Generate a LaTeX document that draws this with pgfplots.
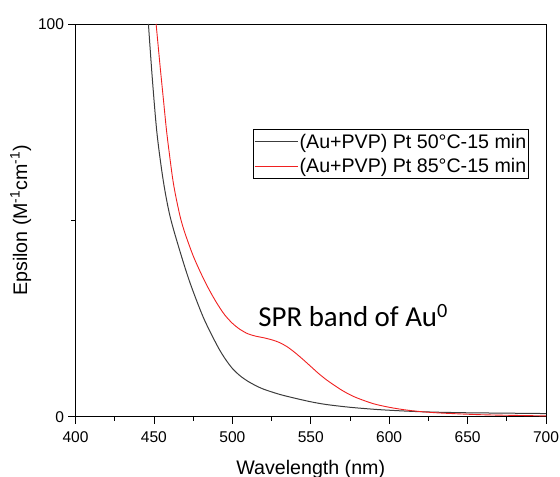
\documentclass[border=0pt]{standalone}
\usepackage{fontspec}
\setmainfont{Liberation Sans}
\newfontfamily\calib{Carlito}
\usepackage{pgfplots}
\pgfplotsset{compat=1.18}
\usetikzlibrary{calc}
\definecolor{cBlack}{HTML}{3C3C3C}
\definecolor{cRed}{HTML}{F02020}

\begin{document}
\begin{tikzpicture}
\begin{axis}[name=ax,
    scale only axis, width=470.5bp, height=392.7bp,
    xmin=400, xmax=700, ymin=0, ymax=100,
    xtick={400,450,...,700}, minor xtick={425,475,...,675},
    ytick={0,100}, minor ytick={50},
    tick align=outside, xtick pos=bottom, ytick pos=left,
    major tick length=7bp, minor tick length=4bp,
    every tick/.style={black, line width=0.8bp},
    axis line style={black, line width=0.9bp},
    /pgf/number format/assume math mode=true,
    ticklabel style={font=\fontsize{15.6}{18}\selectfont},
    xticklabel style={yshift=-4bp},
    yticklabel style={xshift=-1bp},
    xlabel={Wavelength (nm)},
    ylabel={Epsilon (M\textsuperscript{-1}cm\textsuperscript{-1})},
    label style={font=\fontsize{19.7}{23}\selectfont},
    xlabel style={yshift=-11bp},
    legend cell align=left,
    legend style={at={(0.9639,0.7326)}, anchor=north east,
      font=\fontsize{19.7}{23}\selectfont, draw=black, line width=0.6bp,
      inner xsep=1bp, inner ysep=3bp, /tikz/row sep=6bp,
      nodes={inner sep=1.5bp}},
    legend image code/.code={\draw[#1, line width=0.9bp] (0bp,0bp) -- (43bp,0bp);},
  ]
  \addplot[cBlack, line width=1bp, smooth, tension=0.5] coordinates {
    (446.5,100) (449,86) (452,72) (456,60) (460.3,51) (466.7,42)
    (473.1,34) (481.6,25.2) (490.1,18.3) (495,15) (500,12.3) (505,10.4)
    (510,9.0) (515,7.9) (520,7.0) (530,5.7) (540,4.7) (550,3.8)
    (560,3.1) (575,2.4) (590,1.9) (600,1.65) (615,1.35) (630,1.15)
    (650,1.0) (675,0.9) (700,0.8)};
  \addlegendentry{(Au+PVP) Pt 50°C-15 min}
  \addplot[cRed, line width=0.9bp, smooth, tension=0.5] coordinates {
    (451.4,100) (454,89) (456,81) (458,73) (460,66.5) (462,60.5)
    (464,56) (467,50.5) (470,46.5) (475,41) (480,36.5) (485,32.5)
    (490,29) (495,26) (500,23.8) (505,22.2) (510,21.1) (515,20.5)
    (520,20.1) (525,19.6) (530,18.9) (535,17.8) (540,16.3) (545,14.6)
    (550,12.8) (555,11.0) (560,9.4) (565,8.0) (570,6.7) (575,5.6)
    (580,4.7) (590,3.3) (600,2.4) (610,1.75) (620,1.3) (630,1.0)
    (640,0.8) (655,0.55) (670,0.4) (685,0.3) (700,0.2)};
  \addlegendentry{(Au+PVP) Pt 85°C-15 min}
  \node[anchor=base west, inner sep=0pt, font=\calib\fontsize{29}{34}\selectfont]
    at (axis cs:516.5,22.9) {SPR band of Au\textsuperscript{0}};
\end{axis}
\pgfresetboundingbox
\path[use as bounding box] ($(ax.south west)+(-75.5bp,-60.3bp)$) rectangle ($(ax.north east)+(14bp,24bp)$);
\end{tikzpicture}
\end{document}
